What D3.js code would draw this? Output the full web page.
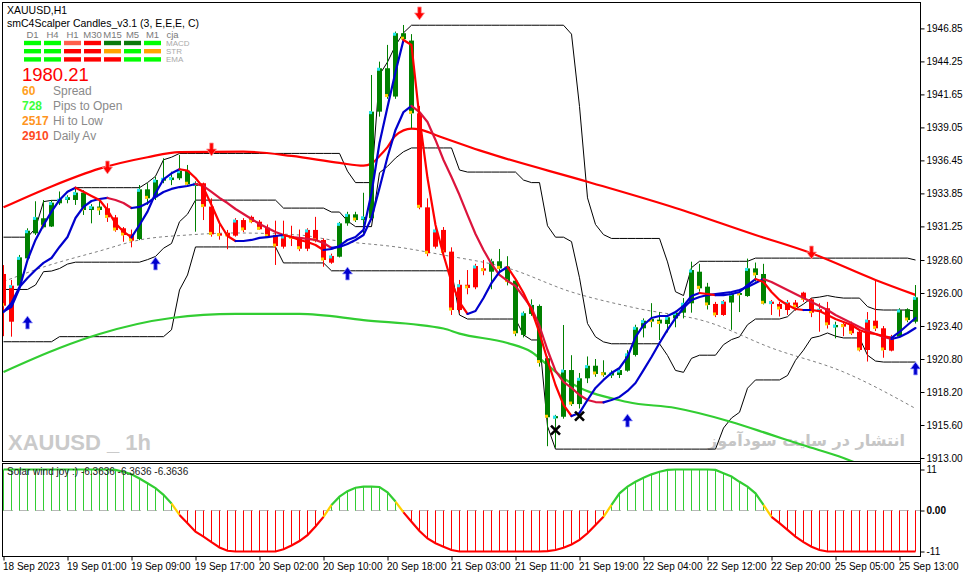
<!DOCTYPE html>
<html><head><meta charset="utf-8">
<script src="https://cdn.jsdelivr.net/npm/d3@7"></script>
<style>
html,body{margin:0;padding:0;background:#fff;overflow:hidden}
svg{display:block;font-family:"Liberation Sans",Arial,sans-serif}
</style></head>
<body><svg id="chart" width="966" height="578"></svg>
<script>
// ---- candles (H1 bars, index 0..114) ----
const opens = [1927.5, 1923.74, 1926.58, 1928.73, 1930.70, 1931.89, 1931.24, 1933.07, 1933.33, 1933.33,
  1933.91, 1932.54, 1932.81, 1932.68, 1931.96, 1931.10, 1930.62, 1930.25, 1934.17, 1933.55,
  1934.85, 1934.90, 1935.04, 1935.64, 1934.43, 1934.65, 1932.81, 1930.70, 1930.75, 1930.52,
  1931.75, 1932.00, 1931.62, 1931.15, 1930.57, 1929.65, 1930.50, 1930.39, 1929.49, 1930.97,
  1930.18, 1928.39, 1928.86, 1931.49, 1932.20, 1931.75, 1931.89, 1940.29, 1943.71, 1941.48,
  1946.47, 1945.89, 1940.16, 1932.75, 1929.65, 1930.97, 1929.26, 1924.66, 1926.65, 1926.45,
  1927.94, 1927.68, 1928.50, 1928.08, 1926.97, 1922.70, 1924.35, 1924.98, 1920.86, 1916.13,
  1916.25, 1919.93, 1917.25, 1919.28, 1920.27, 1919.75, 1919.50, 1919.54, 1919.88, 1921.12,
  1923.22, 1923.95, 1923.90, 1923.56, 1924.00, 1924.45, 1925.19, 1927.68, 1926.50, 1925.14,
  1924.27, 1925.25, 1926.00, 1925.76, 1927.94, 1927.50, 1925.14, 1925.14, 1924.66, 1925.25,
  1926.03, 1925.50, 1924.53, 1924.80, 1923.30, 1923.56, 1923.52, 1922.95, 1921.51, 1923.82,
  1923.22, 1921.46, 1922.56, 1924.72, 1923.74];
const highs = [1928.2, 1927.03, 1929.0, 1931.1, 1933.23, 1933.33, 1933.33, 1934.0, 1933.7, 1934.25,
  1934.1, 1933.0, 1933.3, 1933.07, 1932.15, 1931.2, 1931.0, 1934.51, 1934.65, 1935.17,
  1936.62, 1935.56, 1936.88, 1936.09, 1934.8, 1934.7, 1933.46, 1931.5, 1930.97, 1931.9,
  1931.9, 1932.1, 1931.75, 1931.4, 1931.7, 1931.7, 1931.3, 1931.0, 1931.1, 1932.0,
  1930.3, 1929.1, 1931.6, 1932.4, 1932.4, 1933.9, 1943.18, 1944.23, 1945.55, 1946.6,
  1947.12, 1946.4, 1940.74, 1933.46, 1931.2, 1931.2, 1929.6, 1927.03, 1927.81, 1928.3,
  1928.6, 1928.7, 1929.47, 1928.9, 1927.16, 1924.55, 1925.5, 1925.1, 1921.0, 1916.4,
  1923.48, 1921.1, 1919.7, 1921.0, 1920.8, 1920.7, 1919.9, 1920.1, 1921.5, 1923.5,
  1924.0, 1925.2, 1924.5, 1924.3, 1924.6, 1925.6, 1928.47, 1928.3, 1926.8, 1925.3,
  1925.45, 1926.1, 1926.1, 1928.71, 1928.4, 1928.3, 1925.45, 1925.3, 1925.45, 1925.45,
  1926.1, 1925.6, 1925.19, 1925.3, 1923.74, 1923.74, 1923.75, 1923.1, 1924.5, 1927.03,
  1923.4, 1922.7, 1924.8, 1924.8, 1926.63];
const lows = [1922.6, 1922.56, 1926.4, 1928.6, 1930.57, 1931.10, 1931.2, 1932.94, 1933.07, 1932.94,
  1932.15, 1931.49, 1932.15, 1931.6, 1930.83, 1930.04, 1929.60, 1930.17, 1932.94, 1933.33,
  1934.65, 1934.5, 1934.9, 1934.38, 1930.83, 1931.75, 1930.44, 1930.2, 1929.45, 1930.44,
  1930.8, 1931.5, 1930.97, 1930.35, 1928.21, 1929.5, 1929.7, 1929.3, 1929.3, 1930.0,
  1928.07, 1928.3, 1928.8, 1931.3, 1931.6, 1930.7, 1931.75, 1939.9, 1941.3, 1941.3,
  1945.8, 1938.98, 1932.6, 1928.9, 1929.5, 1928.9, 1924.27, 1924.4, 1925.9, 1926.3,
  1927.4, 1926.3, 1927.7, 1926.6, 1922.6, 1922.5, 1924.2, 1920.2, 1913.93, 1913.8,
  1916.1, 1917.1, 1916.9, 1918.9, 1919.4, 1919.4, 1919.3, 1919.3, 1919.8, 1921.0,
  1922.5, 1923.3, 1922.3, 1922.9, 1923.3, 1924.0, 1924.45, 1926.1, 1924.7, 1924.1,
  1924.2, 1923.1, 1924.5, 1925.7, 1926.9, 1925.1, 1924.27, 1924.15, 1924.27, 1924.6,
  1925.3, 1924.1, 1922.95, 1923.2, 1922.43, 1922.6, 1922.7, 1921.4, 1920.6, 1923.0,
  1920.9, 1921.4, 1922.5, 1923.7, 1923.6];
const closes = [1925.0, 1926.58, 1928.81, 1930.91, 1931.96, 1931.18, 1933.12, 1933.39, 1933.55, 1933.91,
  1932.54, 1932.81, 1932.54, 1931.96, 1930.96, 1930.57, 1930.12, 1934.17, 1933.46, 1934.91,
  1935.04, 1935.1, 1935.64, 1934.57, 1934.65, 1932.81, 1930.62, 1930.52, 1930.5, 1931.75,
  1930.97, 1931.6, 1931.02, 1930.44, 1929.70, 1930.49, 1930.3, 1929.49, 1930.97, 1930.12,
  1928.60, 1928.92, 1931.49, 1932.2, 1931.75, 1932.0, 1940.29, 1943.71, 1941.48, 1946.47,
  1946.0, 1940.16, 1932.75, 1929.13, 1930.97, 1929.2, 1924.66, 1926.65, 1926.4, 1928.13,
  1927.76, 1928.50, 1927.94, 1926.9, 1922.83, 1924.41, 1925.06, 1920.52, 1916.21, 1916.3,
  1919.93, 1917.25, 1919.28, 1920.27, 1919.62, 1919.55, 1919.7, 1919.93, 1921.2, 1923.30,
  1923.82, 1923.75, 1923.6, 1924.09, 1924.45, 1925.19, 1927.81, 1926.37, 1925.06, 1924.27,
  1925.32, 1925.98, 1925.85, 1927.94, 1927.42, 1925.19, 1925.32, 1924.74, 1925.25, 1924.88,
  1925.50, 1924.45, 1924.72, 1923.49, 1923.48, 1923.35, 1922.83, 1921.51, 1923.87, 1923.22,
  1921.51, 1922.56, 1924.66, 1923.87, 1925.66];
// candle colour from the scalper indicator (G = green, R = red)
const candleColor = ('RR' + 'GGGGGGGGGGG' + 'RRRR' + 'GGGGGGGG' + 'RRRRRRRRRRRRRRRRR' + 'GGGGGGGGGG' +
  'RRRRRRRRR' + 'GGGGGGGGGGGGGGGGGGGGGGGGGGGG' + 'RR' + 'GGGGG' + 'RRRRRRRR' + 'G' + 'RRRRRRR' + 'GGG').split('');

// ---- moving averages ----
const fastLine = [1924.53, 1924.92, 1926.37, 1928.60, 1930.18, 1931.36, 1932.41, 1933.33, 1933.98, 1934.30,
  1933.98, 1933.65, 1933.33, 1932.54, 1931.49, 1930.83, 1930.39, 1931.36, 1932.41, 1933.86,
  1934.96, 1935.43, 1935.75, 1935.64, 1935.06, 1934.28, 1932.94, 1931.52, 1930.49, 1930.10,
  1930.10, 1930.18, 1930.34, 1930.41, 1930.49, 1930.57, 1930.41, 1930.18, 1930.02, 1929.78,
  1929.39, 1929.47, 1929.71, 1930.18, 1930.41, 1930.97, 1933.88, 1937.82, 1940.66, 1943.42,
  1945.94, 1945.54, 1939.79, 1935.06, 1931.36, 1929.00, 1926.87, 1925.29, 1924.35, 1924.58,
  1925.61, 1926.79, 1927.66, 1928.05, 1927.10, 1926.00, 1924.66, 1922.85, 1920.72, 1918.75,
  1917.18, 1916.31, 1916.55, 1917.57, 1918.52, 1919.15, 1919.70, 1920.09, 1920.96, 1922.53,
  1923.48, 1924.03, 1924.19, 1924.19, 1924.50, 1924.98, 1925.77, 1926.00, 1925.92, 1925.84,
  1925.84, 1925.92, 1926.08, 1926.63, 1927.10, 1926.87, 1926.08, 1925.45, 1925.06, 1924.74,
  1924.66, 1924.66, 1924.58, 1924.27, 1923.95, 1923.72, 1923.48, 1923.09, 1922.85, 1922.77,
  1922.61, 1922.46, 1922.93, 1923.48, 1924.03];
const mediumLine = [1924.50, 1925.21, 1926.47, 1927.18, 1927.81, 1928.37, 1928.76, 1929.63, 1930.41, 1931.91,
  1932.78, 1933.25, 1933.41, 1933.49, 1933.33, 1933.09, 1932.70, 1932.78, 1933.09, 1933.57,
  1933.96, 1934.20, 1934.35, 1934.43, 1934.59, 1934.43, 1933.96, 1933.49, 1933.09, 1932.62,
  1932.23, 1931.83, 1931.44, 1931.12, 1930.81, 1930.57, 1930.41, 1930.34, 1930.26, 1930.18,
  1929.94, 1929.55, 1929.63, 1929.86, 1930.18, 1930.57, 1931.91, 1934.28, 1936.72, 1938.85,
  1940.26, 1940.74, 1940.26, 1939.48, 1938.06, 1936.48, 1935.14, 1933.72, 1932.15, 1930.65,
  1929.39, 1928.29, 1927.42, 1926.95, 1926.55, 1925.69, 1924.82, 1923.40, 1921.51, 1919.86,
  1918.99, 1918.52, 1917.96, 1917.57, 1917.41, 1917.38, 1917.57, 1917.81, 1918.28, 1918.91,
  1919.93, 1920.96, 1922.06, 1923.09, 1924.03, 1924.82, 1925.45, 1925.69, 1925.84, 1925.92,
  1926.00, 1926.08, 1926.24, 1926.47, 1926.79, 1927.10, 1926.87, 1926.55, 1926.24, 1925.92,
  1925.61, 1925.29, 1924.98, 1924.66, 1924.27, 1923.95, 1923.64, 1923.32, 1923.01, 1922.77,
  1922.53, 1922.38, 1922.53, 1922.85, 1923.24];
// slow lines read at a few bars: [bar, price]
const slowRedMA = [[0,1932.75],[6,1934.4],[12,1935.8],[18,1936.7],[22,1937.1],[30,1937.14],[36,1936.8],
  [42,1936.25],[45,1936.03],[46,1936.2],[47,1936.8],[48,1937.5],[49,1938.4],[51,1938.95],[52,1938.9],
  [54,1938.45],[60,1937.14],[73,1934.77],[84,1932.7],[94,1930.57],[101,1929.13],[109,1927.03],[114,1925.85]];
const greenMA = [[0,1919.78],[7,1921.67],[12,1922.77],[21,1924.03],[29,1924.35],[37,1924.35],[45,1923.87],
  [55,1923.2],[57,1922.8],[63,1922.06],[66,1921.35],[68,1920.33],[70,1919.3],[78,1917.41],[84,1916.94],
  [91,1915.84],[96,1914.82],[100,1914.0],[105,1913.0],[110,1911.7],[114,1910.8]];
const dottedMA = [[0,1926.9],[5,1928.05],[12,1929.31],[17,1930.18],[23,1930.57],[29,1930.73],[37,1930.57],
  [41,1930.18],[50,1929.55],[55,1928.99],[63,1927.97],[71,1926.08],[79,1924.82],[88,1923.72],[96,1921.67],
  [105,1919.78],[114,1916.9]];

// ---- channel (upper / middle / lower) ----
const chanUpper = [1930.4, 1930.4, 1930.4, 1930.4, 1931.1, 1933.2, 1933.3, 1933.3, 1934.0, 1934.3,
  1934.3, 1934.3, 1934.3, 1934.3, 1934.3, 1934.3, 1934.3, 1934.3, 1934.7, 1935.2,
  1936.5, 1936.7, 1937.0, 1937.0, 1937.0, 1937.0, 1937.0, 1937.0, 1937.0, 1937.0,
  1937.0, 1937.0, 1937.0, 1937.0, 1937.0, 1937.0, 1937.0, 1937.0, 1937.0, 1937.0,
  1937.0, 1937.0, 1937.0, 1935.6, 1934.7, 1934.7, 1934.7, 1943.2, 1944.2, 1945.5,
  1946.5, 1947.1, 1947.1, 1947.1, 1947.1, 1947.1, 1947.1, 1947.1, 1947.1, 1947.1,
  1947.1, 1947.1, 1947.1, 1947.1, 1947.1, 1947.1, 1947.1, 1947.1, 1947.1, 1947.1,
  1947.1, 1946.4, 1940.7, 1933.5, 1931.4, 1930.6, 1930.3, 1930.3, 1930.3, 1930.3,
  1930.3, 1930.3, 1930.3, 1928.45, 1926.1, 1925.8, 1928.0, 1928.5, 1928.5, 1928.5,
  1928.5, 1928.5, 1928.5, 1928.5, 1928.75, 1928.75, 1928.75, 1928.75, 1928.75, 1928.75,
  1928.75, 1928.75, 1928.75, 1928.75, 1928.75, 1928.75, 1928.75, 1928.75, 1928.75, 1928.75,
  1928.75, 1928.75, 1928.75, 1928.75, 1928.6];
const chanLower = [1922.16, 1922.16, 1922.16, 1922.16, 1922.16, 1922.16, 1922.16, 1922.56, 1922.56, 1922.56,
  1922.56, 1922.56, 1922.56, 1922.56, 1922.56, 1922.56, 1922.56, 1922.56, 1922.56, 1922.56,
  1922.56, 1923.1, 1926.24, 1927.42, 1929.63, 1929.63, 1929.63, 1929.63, 1929.63, 1929.63,
  1929.63, 1929.63, 1929.63, 1929.63, 1929.63, 1928.37, 1928.37, 1928.37, 1928.37, 1928.37,
  1928.37, 1927.75, 1927.75, 1927.75, 1927.75, 1927.75, 1927.75, 1927.75, 1927.75, 1927.75,
  1927.75, 1927.75, 1927.75, 1927.75, 1927.75, 1927.75, 1927.75, 1924.27, 1923.95, 1923.95,
  1923.95, 1923.95, 1923.95, 1923.95, 1923.95, 1922.7, 1922.3, 1922.3, 1915.5, 1913.7,
  1913.7, 1913.7, 1913.7, 1913.7, 1913.7, 1913.7, 1913.7, 1913.7, 1913.7, 1913.7,
  1913.7, 1913.7, 1913.7, 1913.7, 1913.7, 1913.7, 1913.7, 1913.7, 1913.7, 1913.7,
  1915.36, 1916.15, 1916.6, 1918.5, 1919.15, 1919.15, 1919.15, 1919.15, 1919.5, 1920.7,
  1921.5, 1922.46, 1922.6, 1922.85, 1922.6, 1922.46, 1922.46, 1922.46, 1921.1, 1920.64,
  1920.56, 1920.56, 1920.56, 1920.56, 1920.56];
const chanMiddle = [1926.28, 1926.28, 1926.28, 1926.28, 1926.63, 1927.68, 1927.73, 1927.93, 1928.28, 1928.43,
  1928.43, 1928.43, 1928.43, 1928.43, 1928.43, 1928.43, 1928.43, 1928.43, 1928.63, 1928.88,
  1929.53, 1929.9, 1931.62, 1932.21, 1933.32, 1933.32, 1933.32, 1933.32, 1933.32, 1933.32,
  1933.32, 1933.32, 1933.32, 1933.32, 1933.32, 1932.69, 1932.69, 1932.69, 1932.69, 1932.69,
  1932.69, 1932.38, 1932.38, 1931.68, 1931.23, 1931.23, 1931.23, 1935.48, 1935.98, 1936.63,
  1937.13, 1937.43, 1937.43, 1937.43, 1937.43, 1937.43, 1937.43, 1935.69, 1935.53, 1935.53,
  1935.53, 1935.53, 1935.53, 1935.53, 1935.53, 1934.9, 1934.7, 1934.7, 1931.3, 1930.4,
  1930.4, 1930.05, 1927.2, 1923.6, 1922.55, 1922.15, 1922.0, 1922.0, 1922.0, 1922.0,
  1922.0, 1922.0, 1922.0, 1921.08, 1919.9, 1919.75, 1920.85, 1921.1, 1921.1, 1921.1,
  1921.93, 1922.33, 1922.55, 1923.5, 1923.95, 1923.95, 1923.95, 1923.95, 1924.13, 1924.73,
  1925.13, 1925.6, 1925.68, 1925.8, 1925.68, 1925.6, 1925.6, 1925.6, 1924.93, 1924.7,
  1924.66, 1924.66, 1924.66, 1924.66, 1924.58];

// ---- signals ----
const sellArrows = [[13,1935.85],[26,1937.27],[52,1947.99],[101,1929.15]];
const buyArrows = [[3,1923.72],[19,1928.37],[43,1927.58],[78,1916.0],[114,1920.1]];
const crossMarks = [[69,1915.2],[72,1916.3]];

// ---- lower oscillator ----
const oscillator = [11, 11, 11, 11, 11, 11, 11, 11, 11, 11,
  11, 11, 11, 11, 10.9, 10.4, 9.7, 8.6, 7.3, 6.0,
  4.2, 1.9, -1.2, -3.4, -5.7, -7.0, -8.5, -9.9, -10.8, -11,
  -11, -11, -11, -11, -11, -10.4, -9.4, -8.2, -6.6, -4.3,
  -1.7, 1.5, 3.7, 5.2, 6.1, 6.4, 6.4, 6.3, 4.9, 2.4,
  -0.5, -3.0, -5.5, -7.5, -8.8, -9.7, -10.6, -11, -11, -11,
  -11, -11, -11, -11, -11, -11, -11, -11, -10.9, -10.6,
  -10.0, -9.1, -7.9, -6.1, -3.9, -1.7, 1.5, 4.6, 6.4, 7.7,
  8.8, 9.7, 10.4, 10.9, 11, 11, 11, 11, 11, 10.9,
  10.0, 9.1, 7.7, 6.4, 4.6, 1.5, -1.7, -3.4, -5.2, -7.0,
  -8.5, -9.7, -10.6, -11, -11, -11, -11, -11, -11, -11,
  -11, -11, -11, -11, -11];

// ---- axes ----
const priceTicks = [1946.85, 1944.25, 1941.65, 1939.05, 1936.45, 1933.85, 1931.25, 1928.60, 1926.00, 1923.40, 1920.80, 1918.20, 1915.60, 1913.00];
const timeTickBars = [0, 8, 16, 24, 32, 40, 48, 56, 64, 72, 80, 88, 96, 104, 112];
const timeLabels = ['18 Sep 2023', '19 Sep 01:00', '19 Sep 09:00', '19 Sep 17:00', '20 Sep 02:00', '20 Sep 10:00',
  '20 Sep 18:00', '21 Sep 03:00', '21 Sep 11:00', '21 Sep 19:00', '22 Sep 04:00', '22 Sep 12:00',
  '22 Sep 20:00', '25 Sep 05:00', '25 Sep 13:00'];

// ---- info panel ----
const tfNames = ['D1', 'H4', 'H1', 'M30', 'M15', 'M5', 'M1', 'cja'];
const rowNames = ['MACD', 'STR', 'EMA'];
const rowColors = [
  ['#00ff00', '#00ff00', '#ff604c', '#ff0000', '#0b7a0b', '#0b7a0b', '#00ff00'],
  ['#00ff00', '#00ff00', '#ff0000', '#ff0000', '#ffa500', '#00ff00', '#ffa500'],
  ['#00ff00', '#00ff00', '#ff0000', '#ff0000', '#ff0000', '#00ff00', '#00ff00']
];
const statValues = ['60', '728', '2517', '2910'];
const statNames = ['Spread', 'Pips to Open', 'Hi to Low', 'Daily Av'];
const statColors = ['#ffa020', '#3cff3c', '#ff9420', '#ff4a22'];

const svg = d3.select('#chart');
const plotL = 3, plotR = 920, mainT = 3, mainB = 461, subT = 464, subB = 556;

const x = d3.scaleLinear().domain([0, 114]).range([3.5, 915.5]);
const y = d3.scaleLinear().domain([1913, 1946.85]).range([458, 28.4]);
const ySub = d3.scaleLinear().domain([-11, 11]).range([551.5, 469.5]);

const defs = svg.append('defs');
defs.append('clipPath').attr('id', 'clipMain').append('rect')
  .attr('x', plotL).attr('y', mainT).attr('width', plotR - plotL).attr('height', mainB - mainT);
defs.append('clipPath').attr('id', 'clipSub').append('rect')
  .attr('x', plotL).attr('y', subT).attr('width', plotR - plotL).attr('height', subB - subT);

// watermarks (behind everything)
svg.append('text').attr('x', 8).attr('y', 450).attr('font-size', 22).attr('font-weight', 'bold')
  .attr('fill', '#cacaca').text('XAUUSD _ 1h');
svg.append('text').attr('x', 905).attr('y', 446).attr('font-size', 16).attr('font-weight', 'bold')
  .attr('text-anchor', 'end').attr('font-family', '"DejaVu Sans",sans-serif')
  .attr('fill', '#c6c6c6').text('انتشار در سایت سودآموز');

const main = svg.append('g').attr('clip-path', 'url(#clipMain)');

const ptLine = d3.line().x((d) => x(d[0])).y((d) => y(d[1]));
const smooth = d3.line().x((d) => x(d[0])).y((d) => y(d[1])).curve(d3.curveMonotoneX);

// channel lines
[chanUpper, chanMiddle, chanLower].forEach((arr) => {
  main.append('path').attr('d', ptLine(arr.map((v, i) => [i, v])))
    .attr('fill', 'none').attr('stroke', '#000').attr('stroke-width', 1);
});

main.append('path').attr('d', smooth(dottedMA)).attr('fill', 'none')
  .attr('stroke', '#808080').attr('stroke-width', 1).attr('stroke-dasharray', '3,3');
main.append('path').attr('d', smooth(greenMA)).attr('fill', 'none')
  .attr('stroke', '#32cd32').attr('stroke-width', 2.2);
main.append('path').attr('d', smooth(slowRedMA)).attr('fill', 'none')
  .attr('stroke', '#ff0000').attr('stroke-width', 2.2);

// candles
const idx = d3.range(opens.length);
const cg = main.append('g');
const col = (i) => (candleColor[i] === 'G' ? '#008000' : '#ff0000');
cg.selectAll('line.wick').data(idx).join('line').attr('class', 'wick')
  .attr('x1', (i) => x(i)).attr('x2', (i) => x(i))
  .attr('y1', (i) => y(highs[i])).attr('y2', (i) => y(lows[i]))
  .attr('stroke', col).attr('stroke-width', 1);
cg.selectAll('rect.body').data(idx).join('rect').attr('class', 'body')
  .attr('x', (i) => x(i) - 2.5).attr('width', 5)
  .attr('y', (i) => y(Math.max(opens[i], closes[i])))
  .attr('height', (i) => Math.max(1.5, Math.abs(y(opens[i]) - y(closes[i]))))
  .attr('fill', col);

// coloured MA segments: rising / falling
function directional(vals, upC, downC) {
  const runs = [];
  let cur = null;
  for (let i = 0; i < vals.length - 1; i++) {
    const c = vals[i + 1] >= vals[i] ? upC : downC;
    if (!cur || cur.c !== c) { cur = { c, pts: [[i, vals[i]]] }; runs.push(cur); }
    cur.pts.push([i + 1, vals[i + 1]]);
  }
  runs.forEach((r) => {
    main.append('path').attr('d', ptLine(r.pts)).attr('fill', 'none')
      .attr('stroke', r.c).attr('stroke-width', 2.2).attr('stroke-linejoin', 'round').attr('stroke-linecap', 'round');
  });
}
directional(mediumLine, '#0000cd', '#dc143c');
directional(fastLine, '#0000cd', '#ff0000');

// close markers
cg.selectAll('rect.mark').data(idx).join('rect').attr('class', 'mark')
  .attr('x', (i) => x(i) - 2.5).attr('width', 3).attr('height', 3)
  .attr('y', (i) => (closes[i] >= opens[i] ? y(closes[i]) - 0.5 : y(closes[i]) - 2.5))
  .attr('fill', (i) => (closes[i] >= opens[i] ? '#22e6ee' : '#ffcc00'));

// arrows
const downArrow = 'M-1.8,-7 L1.8,-7 L1.8,-1 L5,-1 L0,6 L-5,-1 L-1.8,-1 Z';
const upArrow = 'M-1.8,7 L1.8,7 L1.8,1 L5,1 L0,-6 L-5,1 L-1.8,1 Z';
main.selectAll('path.sell').data(sellArrows).join('path').attr('class', 'sell')
  .attr('d', downArrow).attr('transform', (d) => `translate(${x(d[0])},${y(d[1])})`)
  .attr('fill', '#ff0000').attr('stroke', '#ff9a9a').attr('stroke-width', 0.8);
main.selectAll('path.buy').data(buyArrows).join('path').attr('class', 'buy')
  .attr('d', upArrow).attr('transform', (d) => `translate(${x(d[0])},${y(d[1])})`)
  .attr('fill', '#0000cd').attr('stroke', '#9a9aff').attr('stroke-width', 0.8);
main.selectAll('path.cross').data(crossMarks).join('path').attr('class', 'cross')
  .attr('d', 'M-4.5,-4.5 L4.5,4.5 M-4.5,4.5 L4.5,-4.5')
  .attr('transform', (d) => `translate(${x(d[0])},${y(d[1])})`)
  .attr('stroke', '#000').attr('stroke-width', 2.6).attr('fill', 'none');

// ---- lower panel ----
const sub = svg.append('g').attr('clip-path', 'url(#clipSub)');
sub.append('line').attr('x1', plotL).attr('x2', plotR).attr('y1', ySub(0)).attr('y2', ySub(0))
  .attr('stroke', '#b8b8b8').attr('stroke-width', 1).attr('stroke-dasharray', '10,6');
sub.selectAll('line.hist').data(idx).join('line').attr('class', 'hist')
  .attr('x1', (i) => x(i)).attr('x2', (i) => x(i))
  .attr('y1', ySub(0)).attr('y2', (i) => ySub(oscillator[i]))
  .attr('stroke', (i) => (oscillator[i] >= 0 ? '#32cd32' : '#ff0000')).attr('stroke-width', 1);
const subLine = d3.line().x((d) => x(d[0])).y((d) => ySub(d[1]));
(function () {
  const runs = [];
  let cur = null;
  for (let i = 0; i < oscillator.length - 1; i++) {
    const m = (oscillator[i] + oscillator[i + 1]) / 2;
    const c = m > 1.2 ? '#32cd32' : (m < -1.0 ? '#ff0000' : '#ffd000');
    if (!cur || cur.c !== c) { cur = { c, pts: [[i, oscillator[i]]] }; runs.push(cur); }
    cur.pts.push([i + 1, oscillator[i + 1]]);
  }
  runs.forEach((r) => {
    sub.append('path').attr('d', subLine(r.pts)).attr('fill', 'none')
      .attr('stroke', r.c).attr('stroke-width', 2.2);
  });
})();
svg.append('text').attr('x', 7).attr('y', 475).attr('font-size', 10).attr('fill', '#222')
  .text('Solar wind joy :) -6.3636 -6.3636 -6.3636');

// ---- frames ----
svg.append('rect').attr('x', 2.5).attr('y', 2.5).attr('width', 918).attr('height', 459)
  .attr('fill', 'none').attr('stroke', '#000');
svg.append('rect').attr('x', 2.5).attr('y', 463.5).attr('width', 918).attr('height', 93)
  .attr('fill', 'none').attr('stroke', '#000');

// ---- axes ----
function styleAxis(g) {
  g.select('.domain').remove();
  g.selectAll('.tick line').attr('stroke', '#000');
  g.selectAll('.tick text').attr('fill', '#000').attr('font-size', 10)
    .attr('font-family', '"Liberation Sans",Arial,sans-serif');
}
svg.append('g').attr('transform', `translate(${plotR + 0.5},0)`)
  .call(d3.axisRight(y).tickValues(priceTicks).tickFormat((d) => d.toFixed(2)).tickSize(4).tickPadding(2))
  .call(styleAxis);
const subAx = svg.append('g').attr('transform', `translate(${plotR + 0.5},0)`)
  .call(d3.axisRight(ySub).tickValues([11, 0, -11]).tickFormat((d) => (d === 0 ? '0.00' : String(d))).tickSize(4).tickPadding(2))
  .call(styleAxis);
subAx.selectAll('.tick text').filter((d) => d === 0).attr('font-weight', 'bold');
const xAx = svg.append('g').attr('transform', `translate(0,${subB + 0.5})`)
  .call(d3.axisBottom(x).tickValues(timeTickBars).tickFormat((d, k) => timeLabels[k]).tickSize(4))
  .call(styleAxis);
xAx.selectAll('.tick text').attr('text-anchor', 'start').attr('x', -1).attr('y', 13.5).attr('dy', 0);
svg.append('line').attr('x1', plotR + 0.5).attr('x2', plotR + 0.5).attr('y1', 2.5).attr('y2', subB + 0.5)
  .attr('stroke', '#000');

// ---- info block ----
const info = svg.append('g');
info.append('text').attr('x', 7).attr('y', 14).attr('font-size', 10.5).attr('fill', '#000').text('XAUUSD,H1');
info.append('text').attr('x', 7).attr('y', 27).attr('font-size', 10.5).attr('fill', '#000')
  .text('smC4Scalper Candles_v3.1 (3, E,E,E, C)');
info.selectAll('text.tf').data(tfNames).join('text').attr('class', 'tf')
  .attr('x', (d, k) => 32.5 + 20 * k).attr('y', 37.5).attr('text-anchor', 'middle')
  .attr('font-size', 9.5).attr('fill', '#7a7a7a').text((d) => d);
rowColors.forEach((row, r) => {
  info.selectAll(`rect.r${r}`).data(row).join('rect').attr('class', `r${r}`)
    .attr('x', (d, k) => 24 + 20 * k).attr('y', 40.8 + r * 8.2).attr('width', 17).attr('height', 4.4)
    .attr('fill', (d) => d);
});
info.selectAll('text.rn').data(rowNames).join('text').attr('class', 'rn')
  .attr('x', 166).attr('y', (d, r) => 45.8 + r * 8.2).attr('font-size', 8).attr('fill', '#aaaaaa').text((d) => d);
info.append('text').attr('x', 22).attr('y', 80.5).attr('font-size', 18.5).attr('fill', '#ff0000').text('1980.21');
statValues.forEach((v, k) => {
  info.append('text').attr('x', 22).attr('y', 95 + k * 15).attr('font-size', 12).attr('font-weight', 'bold')
    .attr('fill', statColors[k]).text(v);
  info.append('text').attr('x', 53).attr('y', 95 + k * 15).attr('font-size', 12)
    .attr('fill', '#8a8a8a').text(statNames[k]);
});
</script>
</body></html>
